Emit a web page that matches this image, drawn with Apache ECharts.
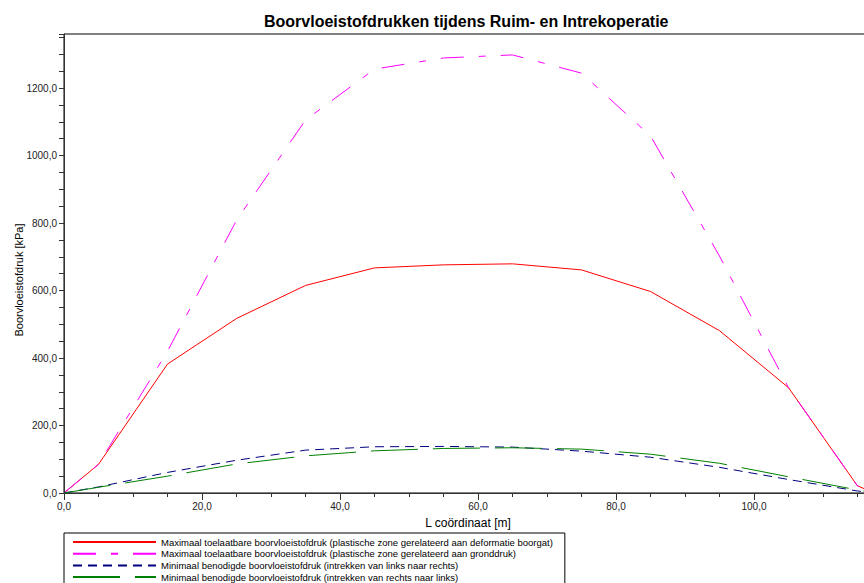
<!DOCTYPE html>
<html><head><meta charset="utf-8">
<script src="https://cdn.jsdelivr.net/npm/echarts@6/dist/echarts.min.js"></script>
<style>html,body{margin:0;padding:0;background:#fff}#c{width:864px;height:583px}</style>
</head><body><div id="c"></div>
<script>
// L-coordinates [m]
const xValues = [0, 5, 15, 25, 35, 45, 55, 65, 75, 85, 95, 105, 115, 117.5];
// Maximaal toelaatbare (deformatie boorgat)
const maxDeformatie = [0, 85, 382, 517, 615, 667, 676, 679, 661, 597, 481, 312, 21, 0];
// Maximaal toelaatbare (gronddruk)
const maxGronddruk = [0, 85, 420, 808, 1105, 1256, 1289, 1298, 1244, 1058, 702, 312, 21, 0];
// Minimaal benodigd (links naar rechts)
const minLinksRechts = [0, 18, 61, 97, 127, 137, 138, 136, 124, 106, 76, 40, 6, 0];
// Minimaal benodigd (rechts naar links)
const minRechtsLinks = [0, 17, 50, 86, 110, 125, 132, 134, 130, 115, 88, 48, 9, 0];

const seriesNames = [
  'Maximaal toelaatbare boorvloeistofdruk (plastische zone gerelateerd aan deformatie boorgat)',
  'Maximaal toelaatbare boorvloeistofdruk (plastische zone gerelateerd aan gronddruk)',
  'Minimaal benodigde boorvloeistofdruk (intrekken van links naar rechts)',
  'Minimaal benodigde boorvloeistofdruk (intrekken van rechts naar links)'
];
const titleText = 'Boorvloeistofdrukken tijdens Ruim- en Intrekoperatie';
const xName = 'L coördinaat [m]';
const yName = 'Boorvloeistofdruk [kPa]';

const FONT = 'Liberation Sans, Arial, sans-serif';
const fmt = v => v.toFixed(1).replace('.', ',');
const pair = ys => xValues.map((x, i) => [x, ys[i]]);

const chart = echarts.init(document.getElementById('c'), null, {renderer: 'svg'});
chart.setOption({
  animation: false,
  backgroundColor: '#ffffff',
  textStyle: {fontFamily: FONT},
  title: {
    text: titleText, left: 259, top: 8,
    textStyle: {fontFamily: FONT, fontSize: 16, fontWeight: 'bold', color: '#000'}
  },
  grid: {
    left: 64, top: 34, right: -28, bottom: 90,
    show: true, borderColor: '#000', borderWidth: 1, backgroundColor: 'transparent',
    containLabel: false, outerBoundsMode: 'none'
  },
  legend: {
    orient: 'vertical', left: 64, top: 533, height: 70,
    itemWidth: 83, itemHeight: 10, itemGap: 1.7,
    padding: [4, 12, 6, 8],
    borderColor: '#000', borderWidth: 1, borderRadius: 0, backgroundColor: '#fff',
    itemStyle: {opacity: 0},
    textStyle: {fontFamily: FONT, fontSize: 9.5, color: '#000'},
    data: seriesNames
  },
  xAxis: {
    type: 'value', min: 0, max: 120, interval: 20,
    name: xName, nameLocation: 'middle', nameGap: 24,
    nameTextStyle: {fontFamily: FONT, fontSize: 12, color: '#000', padding: [0, 20, 0, 0]},
    axisLine: {show: true, lineStyle: {color: '#333', width: 1}},
    axisTick: {show: true, length: 7, lineStyle: {color: '#333'}},
    minorTick: {show: true, splitNumber: 4, length: 4, lineStyle: {color: '#333'}},
    splitLine: {show: false}, minorSplitLine: {show: false},
    axisLabel: {formatter: fmt, fontSize: 10, color: '#222', margin: 8, fontFamily: FONT, showMaxLabel: false}
  },
  yAxis: {
    type: 'value', min: 0, max: 1360, interval: 50,
    name: yName, nameLocation: 'middle', nameGap: 40, nameRotate: 90, nameMoveOverlap: false,
    nameTextStyle: {fontFamily: FONT, fontSize: 11, color: '#000', padding: [0, 33, 0, 0]},
    axisLine: {show: true, lineStyle: {color: '#333', width: 1}},
    axisTick: {show: true, length: 5, lineStyle: {color: '#333'}},
    splitLine: {show: false},
    axisLabel: {formatter: v => (v % 200 === 0 ? fmt(v) : ''), fontSize: 10, color: '#222', margin: 7, fontFamily: FONT}
  },
  series: [
    {name: seriesNames[0], type: 'line', data: pair(maxDeformatie), symbol: 'none', showSymbol: false,
     lineStyle: {color: '#ff0000', width: 1, type: 'solid'}, itemStyle: {color: '#ff0000'}},
    {name: seriesNames[1], type: 'line', data: pair(maxGronddruk), symbol: 'none', showSymbol: false,
     lineStyle: {color: '#ff00ff', width: 1, type: [23, 15, 7, 15]}, itemStyle: {color: '#ff00ff'}},
    {name: seriesNames[2], type: 'line', data: pair(minLinksRechts), symbol: 'none', showSymbol: false,
     lineStyle: {color: '#000080', width: 1, type: [9, 6]}, itemStyle: {color: '#000080'}},
    {name: seriesNames[3], type: 'line', data: pair(minRechtsLinks), symbol: 'none', showSymbol: false,
     lineStyle: {color: '#008000', width: 1, type: [47, 15]}, itemStyle: {color: '#008000'}}
  ]
});
</script></body></html>
